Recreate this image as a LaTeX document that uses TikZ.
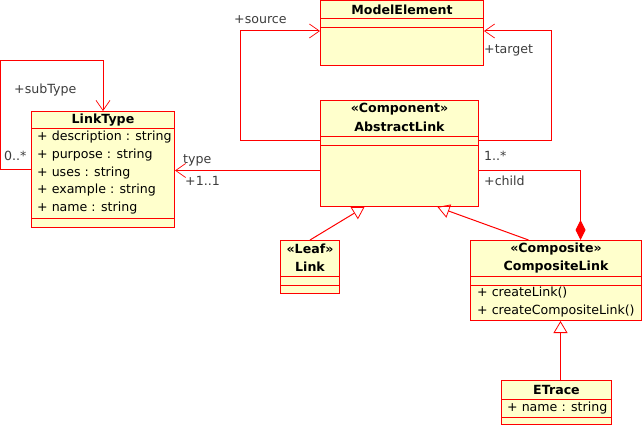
\documentclass[tikz,border=0pt]{standalone}
\usepackage{fontspec}
\setmainfont{DejaVu Sans}
\usetikzlibrary{arrows.meta,positioning}

\definecolor{umlfill}{RGB}{255,255,204}
\definecolor{umlred}{RGB}{255,0,0}
\definecolor{labelgray}{RGB}{60,60,60}

\tikzset{
  umlclass/.style={draw=umlred, fill=umlfill, line width=1pt, anchor=north west, inner sep=0pt},
  classname/.style={font=\fontsize{12.6}{15}\selectfont\bfseries, inner sep=0pt},
  member/.style={font=\fontsize{12.6}{15}\selectfont, anchor=west, inner sep=0pt},
  rolelabel/.style={font=\fontsize{12.6}{15}\selectfont, text=labelgray, anchor=west, inner sep=0pt},
  assoc/.style={draw=umlred, line width=1pt, -{Straight Barb[length=10pt,width=14pt,line width=0.7pt]}},
  compos/.style={draw=umlred, line width=1pt, -{Diamond[length=20pt,width=10pt,fill=umlred]}},
  inherit/.style={draw=umlred, line width=1pt, -{Triangle[open,length=12pt,width=14pt,line width=0.8pt]}}
}

\begin{document}
\begin{tikzpicture}[x=1pt, y=-1pt]
  \useasboundingbox (0,0) rectangle (642,425);

  % classes
  \node[umlclass, minimum width=163pt, minimum height=65pt] (ModelElement) at (320,0.5) {};
  \node[umlclass, minimum width=158pt, minimum height=106pt] (AbstractLink) at (320,100) {};
  \node[umlclass, minimum width=143pt, minimum height=116pt] (LinkType) at (31,111) {};
  \node[umlclass, minimum width=59pt, minimum height=53pt] (Link) at (280,240) {};
  \node[umlclass, minimum width=171pt, minimum height=80pt] (CompositeLink) at (470,240) {};
  \node[umlclass, minimum width=110pt, minimum height=44pt] (ETrace) at (501,380) {};

  % compartment lines
  \foreach \cls/\d in {ModelElement/18, ModelElement/27, AbstractLink/36, AbstractLink/45,
                       LinkType/18, LinkType/107, Link/36, Link/45,
                       CompositeLink/36, CompositeLink/45, ETrace/19, ETrace/37}
    \draw[umlred, line width=1pt] ([yshift=-\d pt]\cls.north west) -- ([yshift=-\d pt]\cls.north east);

  % names
  \node[classname] (ModelElementName) at ([yshift=-9pt]ModelElement.north) {ModelElement};
  \node[classname] (AbstractLinkStereo) at ([yshift=-9pt]AbstractLink.north) {«Component»};
  \node[classname] (AbstractLinkName) at ([yshift=-27pt]AbstractLink.north) {AbstractLink};
  \node[classname] (LinkTypeName) at ([yshift=-9pt]LinkType.north) {LinkType};
  \node[classname] (LinkStereo) at ([yshift=-9pt]Link.north) {«Leaf»};
  \node[classname] (LinkName) at ([yshift=-27pt]Link.north) {Link};
  \node[classname] (CompositeLinkStereo) at ([yshift=-9pt]CompositeLink.north) {«Composite»};
  \node[classname] (CompositeLinkName) at ([yshift=-27pt]CompositeLink.north) {CompositeLink};
  \node[classname] (ETraceName) at ([yshift=-9.5pt]ETrace.north) {ETrace};

  % members
  \foreach \a [count=\i] in {description, purpose, uses, example, name}
    \node[member] (attr\i) at (37,137+17.8*\i-17.8) {+ \a{} : string};
  \node[member] (opCreateLink) at (477,293) {+ createLink()};
  \node[member] (opCreateComposite) at (477,311) {+ createCompositeLink()};
  \node[member] (etraceName) at (507,408) {+ name : string};

  % associations
  \draw[assoc] (LinkType.west) -- ++(-31,0) |- ([yshift=50pt]LinkType.north) -- (LinkType.north);
  \draw[assoc] ([yshift=13pt]AbstractLink.west) -- ++(-80,0) |- ([yshift=2.5pt]ModelElement.west);
  \draw[assoc] ([yshift=13pt]AbstractLink.east) -- ++(72,0) |- ([yshift=2.5pt]ModelElement.east);
  \coordinate (typeStart) at ([yshift=-17pt]AbstractLink.west);
  \draw[assoc] (typeStart) -- (typeStart -| LinkType.east);
  \draw[compos] ([yshift=-17pt]AbstractLink.east) -| ([xshift=24.5pt]CompositeLink.north);

  % generalizations
  \draw[inherit] (Link.north) -- ([xshift=-35pt]AbstractLink.south);
  \draw[inherit] ([xshift=-27.5pt]CompositeLink.north) -- ([xshift=38pt]AbstractLink.south);
  \draw[inherit] ([xshift=4pt]ETrace.north) -- ([xshift=4pt]ETrace.north |- CompositeLink.south);

  % role labels
  \node[rolelabel] (subTypeLabel) at (14,90) {+subType};
  \node[rolelabel] (subTypeMult) at (4,156) {0..*};
  \node[rolelabel] (sourceLabel) at (234,20) {+source};
  \node[rolelabel] (targetLabel) at (484,50) {+target};
  \node[rolelabel] (typeLabel) at (183,160) {type};
  \node[rolelabel] (typeMult) at (185,181) {+1..1};
  \node[rolelabel] (childMult) at (484,156) {1..*};
  \node[rolelabel] (childLabel) at (484,181) {+child};
\end{tikzpicture}
\end{document}
